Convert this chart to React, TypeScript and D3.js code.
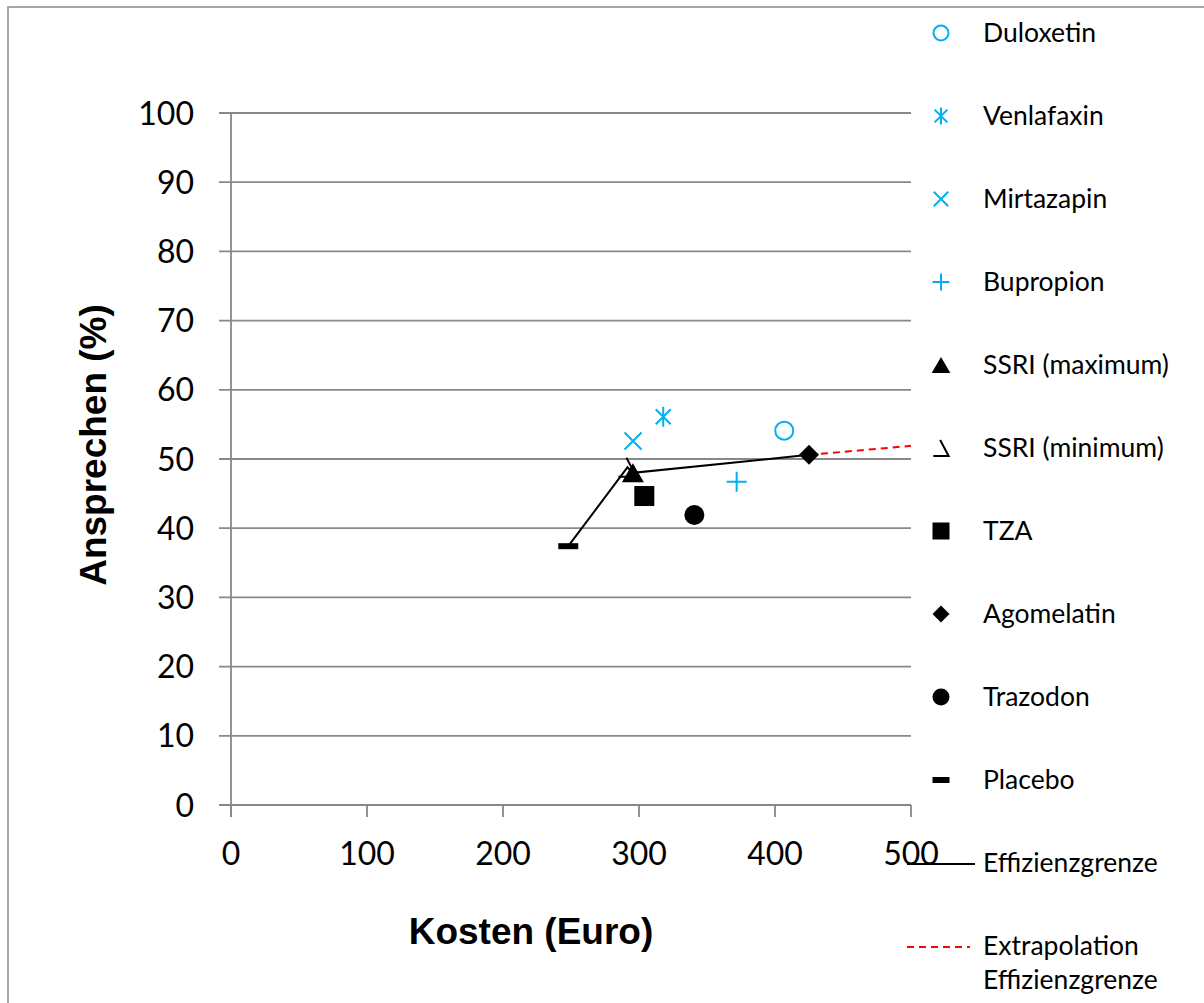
import React from "react";
import * as d3 from "d3";

const drugs = ["Duloxetin", "Venlafaxin", "Mirtazapin", "Bupropion", "SSRI (maximum)", "SSRI (minimum)", "TZA", "Agomelatin", "Trazodon", "Placebo"];
const markerTypes = ["circle", "star", "x", "plus", "triangle", "ssriMin", "square", "diamond", "dot", "dash"];
const markerColors = ["#00B0F0", "#00B0F0", "#00B0F0", "#00B0F0", "#000", "#000", "#000", "#000", "#000", "#000"];
const costs = [406.8, 317.8, 295.6, 371.8, 295.5, 291.5, 303.9, 425, 340.7, 248];
const responses = [54.1, 56.1, 52.6, 46.7, 48.0, 48.8, 44.65, 50.6, 41.9, 37.4];

const frontierCosts = [248, 291.5, 295.5, 425];
const frontierResponses = [37.4, 48.8, 48.0, 50.6];
const extrapolationCosts = [425, 500];
const extrapolationResponses = [50.6, 51.9];

const xTicks = [0, 100, 200, 300, 400, 500];
const yTicks = [0, 10, 20, 30, 40, 50, 60, 70, 80, 90, 100];

const lineLegend = [
  { label: ["Effizienzgrenze"], color: "#000", dash: "" },
  { label: ["Extrapolation", "Effizienzgrenze"], color: "#FF0000", dash: "7,5" },
];

const W = 1204;
const H = 1003;
const TICK_FONT = "Lato, 'Open Sans', sans-serif";
const TITLE_FONT = "'Liberation Sans', Arial, sans-serif";

function Marker({ type, color, cx, cy, s }: { type: string; color: string; cx: number; cy: number; s: number }) {
  const t = `translate(${cx},${cy})`;
  switch (type) {
    case "circle":
      return <circle transform={t} r={s - 1} fill="white" stroke={color} strokeWidth={2} />;
    case "star":
      return (
        <path transform={t} d={`M${-s * 0.75},${-s * 0.75}L${s * 0.75},${s * 0.75}M${-s * 0.75},${s * 0.75}L${s * 0.75},${-s * 0.75}M0,${-s}L0,${s}`} stroke={color} strokeWidth={2} fill="none" />
      );
    case "x":
      return <path transform={t} d={`M${-s * 0.85},${-s * 0.85}L${s * 0.85},${s * 0.85}M${-s * 0.85},${s * 0.85}L${s * 0.85},${-s * 0.85}`} stroke={color} strokeWidth={2} fill="none" />;
    case "plus":
      return <path transform={t} d={`M${-s},0L${s},0M0,${-s}L0,${s}`} stroke={color} strokeWidth={2} fill="none" />;
    case "triangle":
      return <path transform={t} d={`M0,${-s * 0.95}L${s * 1.1},${s * 0.95}L${-s * 1.1},${s * 0.95}Z`} fill={color} />;
    case "ssriMin":
      return <path transform={t} d={`M${-s * 0.1},${-s * 0.95}L${s * 0.9},${s * 0.95}L${-s * 0.9},${s * 0.95}`} stroke={color} strokeWidth={2} fill="none" />;
    case "square":
      return <rect transform={t} x={-s} y={-s} width={2 * s} height={2 * s} fill={color} />;
    case "diamond":
      return <path transform={t} d={`M0,${-s}L${s},0L0,${s}L${-s},0Z`} fill={color} />;
    case "dot":
      return <circle transform={t} r={s} fill={color} />;
    case "dash":
      return <rect transform={t} x={-s} y={-3} width={2 * s} height={6} fill={color} />;
  }
  return null;
}

export default function App() {
  const x = d3.scaleLinear().domain([0, 500]).range([231, 911]);
  const y = d3.scaleLinear().domain([0, 100]).range([805, 113]);

  const line = d3
    .line<[number, number]>()
    .x((d) => x(d[0]))
    .y((d) => y(d[1]));

  const frontier = frontierCosts.map((c, i) => [c, frontierResponses[i]] as [number, number]);
  const extrap = extrapolationCosts.map((c, i) => [c, extrapolationResponses[i]] as [number, number]);

  const legendY0 = 33;
  const legendStep = 83;
  const legendMarkerX = 941;
  const legendTextX = 983;
  const legendFont = 26.5;

  return (
    <svg width={W} height={H} style={{ position: "absolute", left: 0, top: 0, background: "white" }}>
      <rect x={0} y={0} width={W} height={H} fill="white" />
      <rect x={8} y={7} width={W + 20} height={H + 20} fill="none" stroke="#888" strokeWidth={1.5} />

      {/* gridlines */}
      {yTicks.map((t) => (
        <line key={"g" + t} x1={219} x2={x(500)} y1={y(t)} y2={y(t)} stroke="#888" strokeWidth={1.8} />
      ))}
      <line x1={x(0)} x2={x(0)} y1={y(100)} y2={y(0) + 12} stroke="#888" strokeWidth={1.8} />
      {xTicks.map((t) => (
        <line key={"xt" + t} x1={x(t)} x2={x(t)} y1={y(0)} y2={y(0) + 12} stroke="#888" strokeWidth={1.8} />
      ))}

      {yTicks.map((t) => (
        <text key={"yl" + t} x={194} y={y(t)} dy="0.36em" textAnchor="end" fontFamily={TICK_FONT} fontSize={32} fill="#000">
          {t}
        </text>
      ))}
      {xTicks.map((t) => (
        <text key={"xl" + t} x={x(t)} y={853} dy="0.36em" textAnchor="middle" fontFamily={TICK_FONT} fontSize={32} fill="#000">
          {t}
        </text>
      ))}

      <text x={531} y={944} textAnchor="middle" fontFamily={TITLE_FONT} fontWeight="bold" fontSize={37} fill="#000">
        Kosten (Euro)
      </text>
      <text transform={`translate(106,445) rotate(-90)`} textAnchor="middle" fontFamily={TITLE_FONT} fontWeight="bold" fontSize={37} fill="#000">
        Ansprechen (%)
      </text>

      {/* lines */}
      <path d={line(extrap) || ""} fill="none" stroke="#FF0000" strokeWidth={2} strokeDasharray="7,5" />
      <path d={line(frontier) || ""} fill="none" stroke="#000" strokeWidth={2} />

      {/* markers */}
      {drugs.map((d, i) => (
        <Marker key={d} type={markerTypes[i]} color={markerColors[i]} cx={x(costs[i])} cy={y(responses[i])} s={10} />
      ))}

      {/* legend */}
      {drugs.map((d, i) => {
        const cy = legendY0 + i * legendStep;
        return (
          <g key={"lg" + d}>
            <Marker type={markerTypes[i]} color={markerColors[i]} cx={legendMarkerX} cy={cy} s={8.5} />
            <text x={legendTextX} y={cy} dy="0.35em" fontFamily={TICK_FONT} fontSize={legendFont} fill="#000">
              {d}
            </text>
          </g>
        );
      })}
      {lineLegend.map((l, j) => {
        const cy = legendY0 + (drugs.length + j) * legendStep;
        return (
          <g key={"ll" + j}>
            <line x1={907} x2={j === 0 ? 975 : 970} y1={cy + 1} y2={cy + 1} stroke={l.color} strokeWidth={2} strokeDasharray={l.dash} />
            {l.label.map((s, k) => (
              <text key={k} x={legendTextX} y={cy + k * 34} dy="0.35em" fontFamily={TICK_FONT} fontSize={legendFont} fill="#000">
                {s}
              </text>
            ))}
          </g>
        );
      })}
    </svg>
  );
}
